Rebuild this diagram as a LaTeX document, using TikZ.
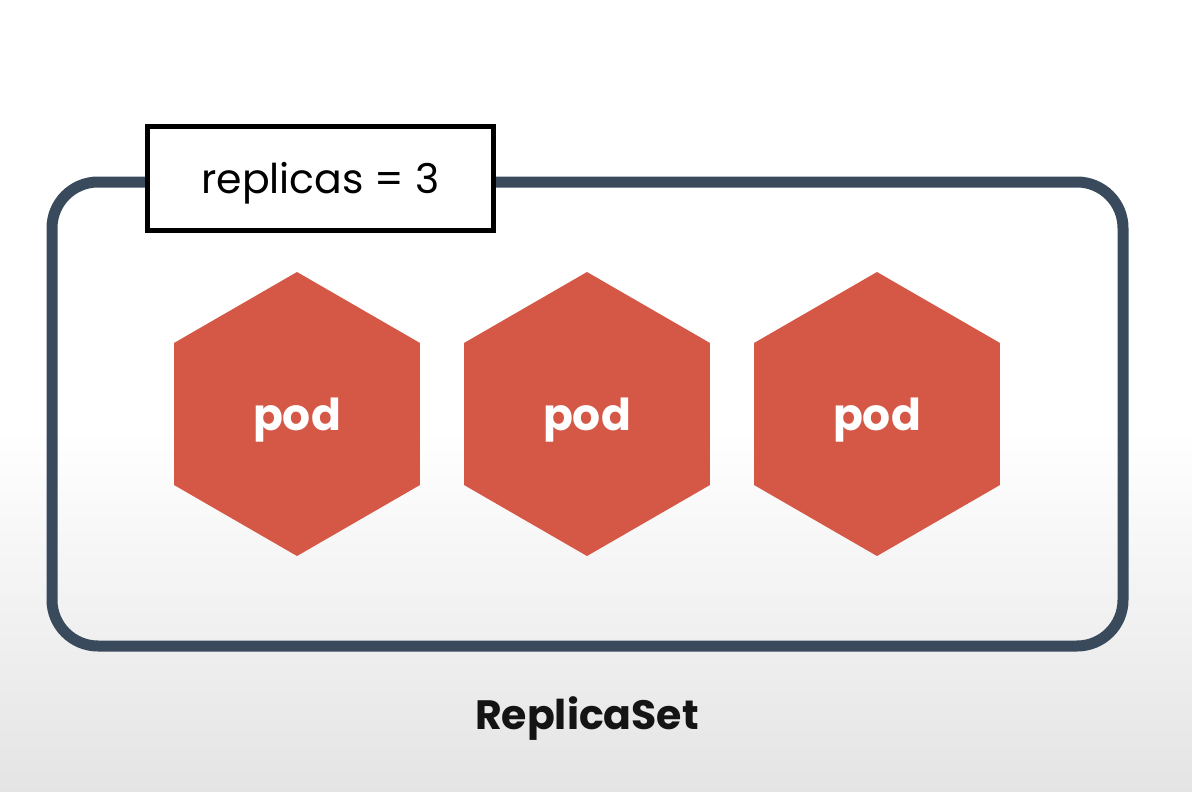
\documentclass[tikz,border=0pt]{standalone}
\usepackage{fontspec}
\setmainfont{Poppins}
\usetikzlibrary{shapes.geometric}

\definecolor{setblue}{RGB}{58,74,93}
\definecolor{podred}{RGB}{213,87,70}
\definecolor{floorgray}{RGB}{228,228,228}

\tikzset{
  pod/.style={regular polygon, regular polygon sides=6, shape border rotate=30,
    fill=podred, inner sep=0pt, minimum size=284pt, text=white,
    font=\fontsize{44}{48}\selectfont\bfseries},
  tag/.style={draw=black, fill=white, line width=5pt,
    minimum width=346pt, minimum height=104pt, inner sep=0pt,
    font=\fontsize{41}{46}\selectfont}
}

\begin{document}
\begin{tikzpicture}[x=1pt, y=-1pt]

  % page and floor shading
  \useasboundingbox (0,0) rectangle (1192,792);
  \fill[white] (0,0) rectangle (1192,792);
  \fill[top color=white, bottom color=floorgray] (0,430) rectangle (1192,792);

  % the replica set frame
  \draw[setblue, line width=11pt, rounded corners=46pt] (52,182) rectangle (1123,646);
  \node[tag] (replicas) at (320.5,178.5) {\raisebox{-14.5pt}[0pt][0pt]{replicas = 3}};

  % pods
  \node[pod] (pod1) at (297,414) {\raisebox{-16pt}[0pt][0pt]{pod}};
  \node[pod] (pod2) at (587,414) {\raisebox{-16pt}[0pt][0pt]{pod}};
  \node[pod] (pod3) at (877,414) {\raisebox{-16pt}[0pt][0pt]{pod}};

  \node[font=\fontsize{41}{45}\selectfont\bfseries, text=black!92] (setname) at (587,719) {ReplicaSet};

\end{tikzpicture}
\end{document}
